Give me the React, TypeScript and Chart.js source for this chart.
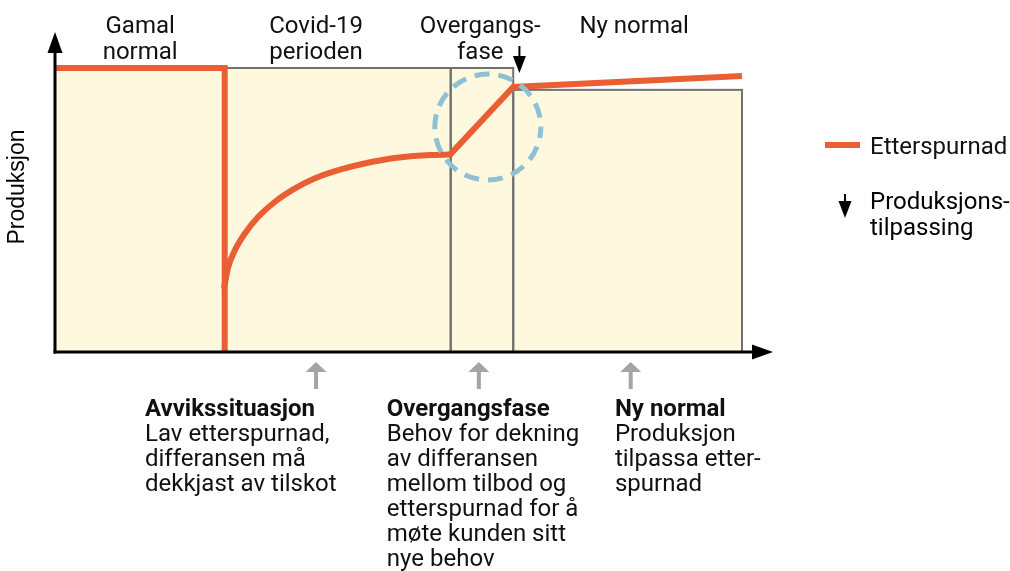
import React, { useEffect, useRef } from "react";
import { Chart, registerables } from "chart.js";

Chart.register(...registerables);

// ---- data (x: time 0–100, y: production level 0–100) ----
const phaseEdges = [0, 24.7, 57.6, 66.7, 100];
const phaseTops = [100, 100, 100, 92.3];
const phaseLabels = [["Gamal", "normal"], ["Covid-19", "perioden"], ["Overgangs-", "fase"], ["Ny normal"]];
const phaseLabelX = [12.4, 38.0, 61.9, 84.3];

const dropX = [0, 24.7, 24.7];
const dropY = [100, 100, 0];
const recoveryX = [24.64, 25.23, 26.2, 27.66, 29.59, 32.02, 34.93, 37.85, 41.73, 44.88, 49.74, 54.59, 57.5];
const recoveryY = [23.0, 30.0, 35.9, 41.8, 47.6, 52.9, 57.6, 61.2, 64.4, 66.3, 68.4, 69.4, 69.5];
const adjustX = [57.5, 66.7, 100];
const adjustY = [69.5, 93.3, 97.2];

const highlightCenter = [63.0, 79.2];
const adjustmentMarkX = 67.6;

const noteArrowX = [38.0, 61.7, 83.8];
const noteTextX = [13.1, 48.3, 81.5];
const noteTitles = ["Avvikssituasjon", "Overgangsfase", "Ny normal"];
const noteBodies = [
  ["Lav etterspurnad,", "differansen må", "dekkjast av tilskot"],
  ["Behov for dekning", "av differansen", "mellom tilbod og", "etterspurnad for å", "møte kunden sitt", "nye behov"],
  ["Produksjon", "tilpassa etter-", "spurnad"],
];
const legendDemand = "Etterspurnad";
const legendAdjust = ["Produksjons-", "tilpassing"];
const yAxisTitle = "Produksjon";

// ---- styles ----
const ORANGE = "rgb(234,94,51)";
const FILL = "rgb(254,249,222)";
const GRAY = "#707070";
const BLUE = "#8fc0d4";
const TEXT = "#111111";
const ARROW_GRAY = "#a4a4a4";
const FONT = "Roboto";

const toPts = (xs: number[], ys: number[]) => xs.map((x, i) => ({ x, y: ys[i] }));

function tri(ctx: CanvasRenderingContext2D, pts: number[][], color: string) {
  ctx.beginPath();
  ctx.moveTo(pts[0][0], pts[0][1]);
  ctx.lineTo(pts[1][0], pts[1][1]);
  ctx.lineTo(pts[2][0], pts[2][1]);
  ctx.closePath();
  ctx.fillStyle = color;
  ctx.fill();
}

function downArrow(ctx: CanvasRenderingContext2D, x: number, top: number, tip: number, headLen: number, headW: number, shaftW: number, color: string) {
  ctx.fillStyle = color;
  ctx.fillRect(x - shaftW / 2, top, shaftW, tip - headLen - top + 1);
  tri(ctx, [[x - headW / 2, tip - headLen], [x + headW / 2, tip - headLen], [x, tip]], color);
}

function upArrow(ctx: CanvasRenderingContext2D, x: number, tip: number, bottom: number, headLen: number, headW: number, shaftW: number, color: string) {
  ctx.fillStyle = color;
  ctx.fillRect(x - shaftW / 2, tip + headLen - 1, shaftW, bottom - tip - headLen + 1);
  tri(ctx, [[x - headW / 2, tip + headLen], [x + headW / 2, tip + headLen], [x, tip]], color);
}

const diagramPlugin = {
  id: "diagram",
  beforeDatasetsDraw(chart: any) {
    const { ctx, scales } = chart;
    const xs = scales.x, ys = scales.y;
    const base = ys.getPixelForValue(0);
    ctx.save();
    for (let i = 0; i < phaseTops.length; i++) {
      const l = xs.getPixelForValue(phaseEdges[i]);
      const r = xs.getPixelForValue(phaseEdges[i + 1]);
      const t = ys.getPixelForValue(phaseTops[i]);
      ctx.fillStyle = FILL;
      ctx.fillRect(l, t, r - l, base - t);
    }
    ctx.strokeStyle = GRAY;
    ctx.lineWidth = 2;
    for (let i = 1; i < phaseTops.length; i++) {
      const l = xs.getPixelForValue(phaseEdges[i]);
      const r = xs.getPixelForValue(phaseEdges[i + 1]);
      const t = ys.getPixelForValue(phaseTops[i]);
      ctx.strokeRect(l, t, r - l, base - t);
    }
    ctx.restore();
  },
  afterDatasetsDraw(chart: any) {
    const { ctx, scales, chartArea } = chart;
    const xs = scales.x, ys = scales.y;
    ctx.save();

    // dashed highlight circle
    ctx.beginPath();
    ctx.setLineDash([15, 9]);
    ctx.lineDashOffset = 4;
    ctx.lineWidth = 5;
    ctx.strokeStyle = BLUE;
    ctx.arc(xs.getPixelForValue(highlightCenter[0]), ys.getPixelForValue(highlightCenter[1]), 53, 0, Math.PI * 2);
    ctx.stroke();
    ctx.setLineDash([]);

    // axes
    const ox = chartArea.left, oy = chartArea.bottom;
    ctx.fillStyle = "#000";
    ctx.fillRect(ox - 1.5, 50, 3, oy - 50 + 1.5);
    tri(ctx, [[ox - 7.5, 53], [ox + 7.5, 53], [ox, 32]], "#000");
    ctx.fillRect(ox - 1.5, oy - 1.5, 755 - ox, 3);
    tri(ctx, [[752, oy - 7.5], [752, oy + 7.5], [773, oy]], "#000");

    // production adjustment mark
    downArrow(ctx, xs.getPixelForValue(adjustmentMarkX), 46, 73, 17, 13, 2, "#000");

    // note arrows
    noteArrowX.forEach((v) => upArrow(ctx, xs.getPixelForValue(v), 362, 389, 10, 21, 4, ARROW_GRAY));

    // phase labels
    ctx.fillStyle = TEXT;
    ctx.textAlign = "center";
    ctx.textBaseline = "alphabetic";
    ctx.font = `24px ${FONT}`;
    phaseLabels.forEach((lines, i) => {
      lines.forEach((s, j) => ctx.fillText(s, xs.getPixelForValue(phaseLabelX[i]), 33 + j * 26));
    });

    // notes
    ctx.textAlign = "left";
    noteTitles.forEach((title, i) => {
      const x = xs.getPixelForValue(noteTextX[i]);
      ctx.font = `bold 24px ${FONT}`;
      ctx.fillText(title, x, 416);
      ctx.font = `24px ${FONT}`;
      noteBodies[i].forEach((s, j) => ctx.fillText(s, x, 416 + (j + 1) * 25));
    });

    // legend
    ctx.fillStyle = ORANGE;
    ctx.fillRect(825, 142, 35, 6);
    ctx.fillStyle = TEXT;
    ctx.font = `24px ${FONT}`;
    ctx.fillText(legendDemand, 870, 154);
    downArrow(ctx, 845, 194, 218, 17, 13, 2, "#000");
    legendAdjust.forEach((s, j) => ctx.fillText(s, 870, 209 + j * 26));

    // y axis title
    ctx.save();
    ctx.translate(24, 187);
    ctx.rotate(-Math.PI / 2);
    ctx.textAlign = "center";
    ctx.font = `23px "Liberation Sans"`;
    ctx.fillText(yAxisTitle, 0, 0);
    ctx.restore();

    ctx.restore();
  },
};

export default function App() {
  const ref = useRef<HTMLCanvasElement>(null);
  useEffect(() => {
    const lineStyle = {
      borderColor: ORANGE,
      borderWidth: 6,
      pointRadius: 0,
      fill: false,
      clip: false as any,
      borderJoinStyle: "miter" as const,
    };
    const chart = new Chart(ref.current!, {
      type: "line",
      data: {
        datasets: [
          { ...lineStyle, label: legendDemand, data: toPts(dropX, dropY), tension: 0, borderCapStyle: "butt" },
          { ...lineStyle, label: "recovery", data: toPts(recoveryX, recoveryY), cubicInterpolationMode: "monotone", borderCapStyle: "round" },
          { ...lineStyle, label: "adjust", data: toPts(adjustX, adjustY), tension: 0, borderCapStyle: "butt" },
        ] as any,
      },
      options: {
        responsive: false,
        animation: false,
        events: [],
        layout: { padding: { left: 55, right: 268, top: 68, bottom: 219 } },
        scales: {
          x: { type: "linear", min: 0, max: 100, display: false },
          y: { type: "linear", min: 0, max: 100, display: false },
        },
        plugins: { legend: { display: false }, tooltip: { enabled: false }, title: { display: false } },
      },
      plugins: [diagramPlugin],
    });
    return () => chart.destroy();
  }, []);
  return (
    <div style={{ position: "fixed", left: 0, top: 0, width: 1010, height: 571, background: "#fff" }}>
      <canvas ref={ref} width={1010} height={571} style={{ display: "block" }} />
    </div>
  );
}
